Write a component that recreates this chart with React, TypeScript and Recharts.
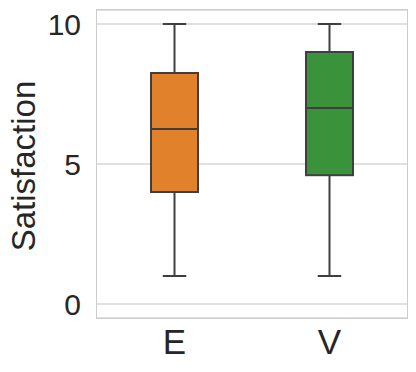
import React from 'react';
import { ComposedChart, Bar, XAxis, YAxis, CartesianGrid } from 'recharts';

const categories = ['E', 'V'];
const mins = [1, 1];
const q1s = [4.0, 4.6];
const medians = [6.25, 7];
const q3s = [8.25, 9];
const maxs = [10, 10];
const boxColors = ['#e1812c', '#3a923a'];
const yTicks = [0, 5, 10];

const data = categories.map((c, i) => ({
  group: c,
  range: [mins[i], maxs[i]],
  min: mins[i],
  q1: q1s[i],
  median: medians[i],
  q3: q3s[i],
  max: maxs[i],
  color: boxColors[i],
}));

const LINE = '#3f3f3f';
const LW = 2;
const FONT = '"Liberation Sans", Arial, sans-serif';

// draws whiskers + box from the bar's [min, max] geometry
const BoxShape = (props: any) => {
  const { x, y, width, height, payload } = props;
  const { min, q1, median, q3, max, color } = payload;
  const py = (v: number) => y + ((max - v) / (max - min)) * height;
  const cx = x + width / 2;
  const cap = width / 4;
  return (
    <g>
      <line x1={cx} x2={cx} y1={py(max)} y2={py(q3)} stroke={LINE} strokeWidth={LW} />
      <line x1={cx} x2={cx} y1={py(q1)} y2={py(min)} stroke={LINE} strokeWidth={LW} />
      <line x1={cx - cap} x2={cx + cap} y1={py(max)} y2={py(max)} stroke={LINE} strokeWidth={LW} />
      <line x1={cx - cap} x2={cx + cap} y1={py(min)} y2={py(min)} stroke={LINE} strokeWidth={LW} />
      <rect x={x} y={py(q3)} width={width} height={py(q1) - py(q3)} fill={color} stroke={LINE} strokeWidth={LW} />
      <line x1={x} x2={x + width} y1={py(median)} y2={py(median)} stroke={LINE} strokeWidth={LW} />
    </g>
  );
};

const YLabel = () => (
  <text
    x={23.5}
    y={166}
    transform="rotate(-90 23.5 166)"
    textAnchor="middle"
    dominantBaseline="central"
    fontSize={33}
    fontFamily={FONT}
    fill="#262626"
  >
    Satisfaction
  </text>
);

export default function App() {
  return (
    <div style={{ margin: -8, width: 416, height: 372, background: '#fff', position: 'relative' }}>
      <ComposedChart
        width={416}
        height={372}
        data={data}
        margin={{ top: 10, right: 9, left: 37, bottom: 14 }}
      >
        <CartesianGrid vertical={false} stroke="#d6d6d6" strokeWidth={1.3} />
        <XAxis
          dataKey="group"
          height={40}
          tickLine={false}
          tickSize={0}
          tickMargin={11}
          axisLine={false}
          tick={{ fontSize: 35, fill: '#262626', fontFamily: FONT }}
        />
        <YAxis
          width={60}
          domain={[-0.5, 10.5]}
          ticks={yTicks}
          tickLine={false}
          tickSize={0}
          tickMargin={16}
          axisLine={false}
          tick={{ fontSize: 30, fill: '#262626', fontFamily: FONT }}
          label={<YLabel />}
        />
        <Bar dataKey="range" barSize={47} shape={<BoxShape />} isAnimationActive={false} />
      </ComposedChart>
      {/* outer frame of the plot area */}
      <div
        style={{
          position: 'absolute',
          left: 96,
          top: 9,
          width: 310,
          height: 308,
          border: '1.8px solid #cccccc',
          pointerEvents: 'none',
        }}
      />
    </div>
  );
}
